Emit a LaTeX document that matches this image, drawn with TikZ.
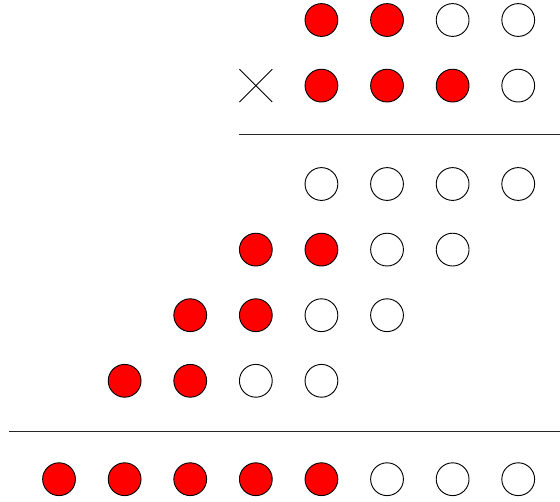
\documentclass[tikz,border=0pt]{standalone}
\usepackage{tikz}
\usetikzlibrary{positioning,calc}
\tikzstyle{bitone} =[circle, draw=black, fill=red, minimum size=0.5cm, inner sep=0pt]
\tikzstyle{bitzero}=[circle, draw=black, fill=white, minimum size=0.5cm, inner sep=0pt]
\tikzstyle{rule}   =[draw=black!85, line width=0.45pt]

\begin{document}
\begin{tikzpicture}
  \useasboundingbox (0,0) rectangle (8.537,-7.652);

  % ── multiplicand ───────────────────────────────────────────────────────────
  \node[bitone]  (a1) at (4.9, -0.305) {};
  \node[bitone]  (a2) at (5.9, -0.305) {};
  \node[bitzero] (a3) at (6.9, -0.305) {};
  \node[bitzero] (a4) at (7.9, -0.305) {};

  % ── multiplier ─────────────────────────────────────────────────────────────
  \node[bitone]  (b1) at (4.9, -1.305) {};
  \node[bitone]  (b2) at (5.9, -1.305) {};
  \node[bitone]  (b3) at (6.9, -1.305) {};
  \node[bitzero] (b4) at (7.9, -1.305) {};
  \coordinate (times) at (3.9, -1.305);
  \draw ($(times)+(-0.25,0.25)$) -- ($(times)+(0.25,-0.25)$);
  \draw ($(times)+(-0.25,-0.25)$) -- ($(times)+(0.25,0.25)$);

  % ── first rule ─────────────────────────────────────────────────────────────
  \coordinate (ruleA) at (3.64, -2.055);
  \coordinate (ruleB) at (8.537, -2.055);
  \draw[rule] (ruleA) -- (ruleB);

  % ── partial products ───────────────────────────────────────────────────────
  \node[bitzero] (p1) at (4.9, -2.805) {};
  \node[bitzero] (p2) at (5.9, -2.805) {};
  \node[bitzero] (p3) at (6.9, -2.805) {};
  \node[bitzero] (p4) at (7.9, -2.805) {};

  \node[bitone]  (q1) at (3.9, -3.805) {};
  \node[bitone]  (q2) at (4.9, -3.805) {};
  \node[bitzero] (q3) at (5.9, -3.805) {};
  \node[bitzero] (q4) at (6.9, -3.805) {};

  \node[bitone]  (r1) at (2.9, -4.805) {};
  \node[bitone]  (r2) at (3.9, -4.805) {};
  \node[bitzero] (r3) at (4.9, -4.805) {};
  \node[bitzero] (r4) at (5.9, -4.805) {};

  \node[bitone]  (s1) at (1.9, -5.805) {};
  \node[bitone]  (s2) at (2.9, -5.805) {};
  \node[bitzero] (s3) at (3.9, -5.805) {};
  \node[bitzero] (s4) at (4.9, -5.805) {};

  % ── second rule ────────────────────────────────────────────────────────────
  \coordinate (ruleC) at (0.14, -6.58);
  \coordinate (ruleD) at (8.537, -6.58);
  \draw[rule] (ruleC) -- (ruleD);

  % ── product ────────────────────────────────────────────────────────────────
  \node[bitone]  (c1) at (0.9, -7.305) {};
  \node[bitone]  (c2) at (1.9, -7.305) {};
  \node[bitone]  (c3) at (2.9, -7.305) {};
  \node[bitone]  (c4) at (3.9, -7.305) {};
  \node[bitone]  (c5) at (4.9, -7.305) {};
  \node[bitzero] (c6) at (5.9, -7.305) {};
  \node[bitzero] (c7) at (6.9, -7.305) {};
  \node[bitzero] (c8) at (7.9, -7.305) {};

\end{tikzpicture}
\end{document}
